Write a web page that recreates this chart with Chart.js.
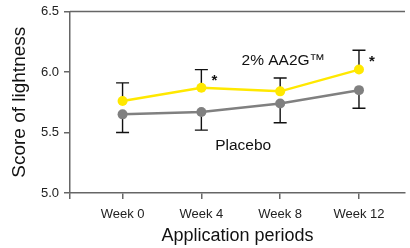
<!DOCTYPE html>
<html>
<head>
<meta charset="utf-8">
<script src="https://cdn.jsdelivr.net/npm/chart.js@4/dist/chart.umd.min.js"></script>
<style>
  html, body { margin: 0; padding: 0; background: #fff; }
  #wrap { width: 410px; height: 248px; position: relative; }
</style>
</head>
<body>
<div id="wrap"><canvas id="c"></canvas></div>
<script>
// ---- data ----
const categories = ['Week 0', 'Week 4', 'Week 8', 'Week 12'];
const aa2gValues = [5.76, 5.87, 5.84, 6.02];
const aa2gErrors = [0.15, 0.15, 0.11, 0.16];
const placeboValues = [5.65, 5.67, 5.74, 5.85];
const placeboErrors = [0.15, 0.15, 0.16, 0.15];
const yTicks = [5.0, 5.5, 6.0, 6.5];
const seriesNames = ['2% AA2G™', 'Placebo'];
const significant = [false, true, false, true]; // asterisks on AA2G series

const FONT = '"Liberation Sans", Arial, Helvetica, sans-serif';
const X_MIN = -0.667, X_MAX = 3.584;

const errorBars = {
  id: 'errorBars',
  beforeDatasetsDraw(chart) {
    const ctx = chart.ctx;
    const y = chart.scales.y;
    chart.data.datasets.forEach((ds, di) => {
      const meta = chart.getDatasetMeta(di);
      ctx.save();
      ctx.strokeStyle = '#111';
      ctx.lineWidth = 1.4;
      meta.data.forEach((pt, i) => {
        const v = ds.data[i].y;
        const e = ds.errors[i];
        const yEnd = y.getPixelForValue(v + ds.errorDir * e);
        ctx.beginPath();
        ctx.moveTo(pt.x, pt.y);
        ctx.lineTo(pt.x, yEnd);
        ctx.moveTo(pt.x - 6.5, yEnd);
        ctx.lineTo(pt.x + 6.5, yEnd);
        ctx.stroke();
      });
      ctx.restore();
    });
  }
};

const frameAndLabels = {
  id: 'frameAndLabels',
  afterDraw(chart) {
    const ctx = chart.ctx;
    const a = chart.chartArea;
    const xs = chart.scales.x, ys = chart.scales.y;
    ctx.save();
    // top frame line
    ctx.strokeStyle = '#666';
    ctx.lineWidth = 1.5;
    ctx.beginPath();
    ctx.moveTo(a.left, a.top);
    ctx.lineTo(a.right, a.top);
    ctx.stroke();
    // series labels
    ctx.fillStyle = '#111';
    ctx.textAlign = 'center';
    ctx.textBaseline = 'middle';
    ctx.font = '15.5px ' + FONT;
    ctx.fillText(seriesNames[0], xs.getPixelForValue(2.04), ys.getPixelForValue(6.093));
    ctx.fillText(seriesNames[1], xs.getPixelForValue(1.53), ys.getPixelForValue(5.39));
    // asterisks
    ctx.font = 'bold 15px ' + FONT;
    const meta = chart.getDatasetMeta(0);
    significant.forEach((s, i) => {
      if (!s) return;
      const pt = meta.data[i];
      const top = ys.getPixelForValue(aa2gValues[i] + aa2gErrors[i]);
      ctx.fillText('*', pt.x + 13, (pt.y + top) / 2 + 2);
    });
    ctx.restore();
  }
};

new Chart(document.getElementById('c'), {
  type: 'line',
  data: {
    datasets: [
      {
        label: seriesNames[0],
        data: aa2gValues.map((v, i) => ({ x: i, y: v })),
        errors: aa2gErrors,
        errorDir: 1,
        borderColor: '#ffe800',
        backgroundColor: '#ffe800',
        pointBackgroundColor: '#ffe800',
        pointBorderColor: '#ffe800',
        borderWidth: 2.5,
        pointRadius: 5,
        pointBorderWidth: 0,
        tension: 0
      },
      {
        label: seriesNames[1],
        data: placeboValues.map((v, i) => ({ x: i, y: v })),
        errors: placeboErrors,
        errorDir: -1,
        borderColor: '#808080',
        backgroundColor: '#808080',
        pointBackgroundColor: '#808080',
        pointBorderColor: '#808080',
        borderWidth: 2.5,
        pointRadius: 5,
        pointBorderWidth: 0,
        tension: 0
      }
    ]
  },
  options: {
    responsive: true,
    maintainAspectRatio: false,
    animation: false,
    layout: { padding: { top: 10, right: 0, left: 0, bottom: 0 } },
    plugins: { legend: { display: false }, tooltip: { enabled: false } },
    scales: {
      x: {
        type: 'linear',
        min: X_MIN,
        max: X_MAX,
        afterBuildTicks(scale) {
          scale.ticks = [X_MIN].concat(categories.map((c, i) => i)).map(v => ({ value: v }));
        },
        afterFit(scale) { scale.height = 55; },
        ticks: {
          autoSkip: false,
          maxRotation: 0,
          padding: 8,
          color: '#222',
          font: { family: FONT, size: 13 },
          callback: (v) => (Number.isInteger(v) && categories[v] !== undefined) ? categories[v] : ''
        },
        grid: { drawOnChartArea: false, drawTicks: true, tickLength: 6, color: '#666', lineWidth: 1.5 },
        border: { display: true, color: '#666', width: 1.5 },
        title: {
          display: true,
          text: 'Application periods',
          color: '#111',
          font: { family: FONT, size: 18 },
          padding: { top: 0, bottom: 1 }
        }
      },
      y: {
        min: 5.0,
        max: 6.5,
        afterBuildTicks(scale) { scale.ticks = yTicks.map(v => ({ value: v })); },
        afterFit(scale) { scale.width = 70; },
        ticks: {
          padding: 5,
          color: '#222',
          font: { family: FONT, size: 13, lineHeight: 1.0 },
          callback: (v) => Number(v).toFixed(1)
        },
        grid: { drawOnChartArea: false, drawTicks: true, tickLength: 6, color: '#666', lineWidth: 1.5 },
        border: { display: true, color: '#666', width: 1.5 },
        title: {
          display: true,
          text: 'Score of lightness',
          color: '#111',
          font: { family: FONT, size: 19 },
          padding: { top: 8, bottom: 0 }
        }
      }
    }
  },
  plugins: [errorBars, frameAndLabels]
});
</script>
</body>
</html>
